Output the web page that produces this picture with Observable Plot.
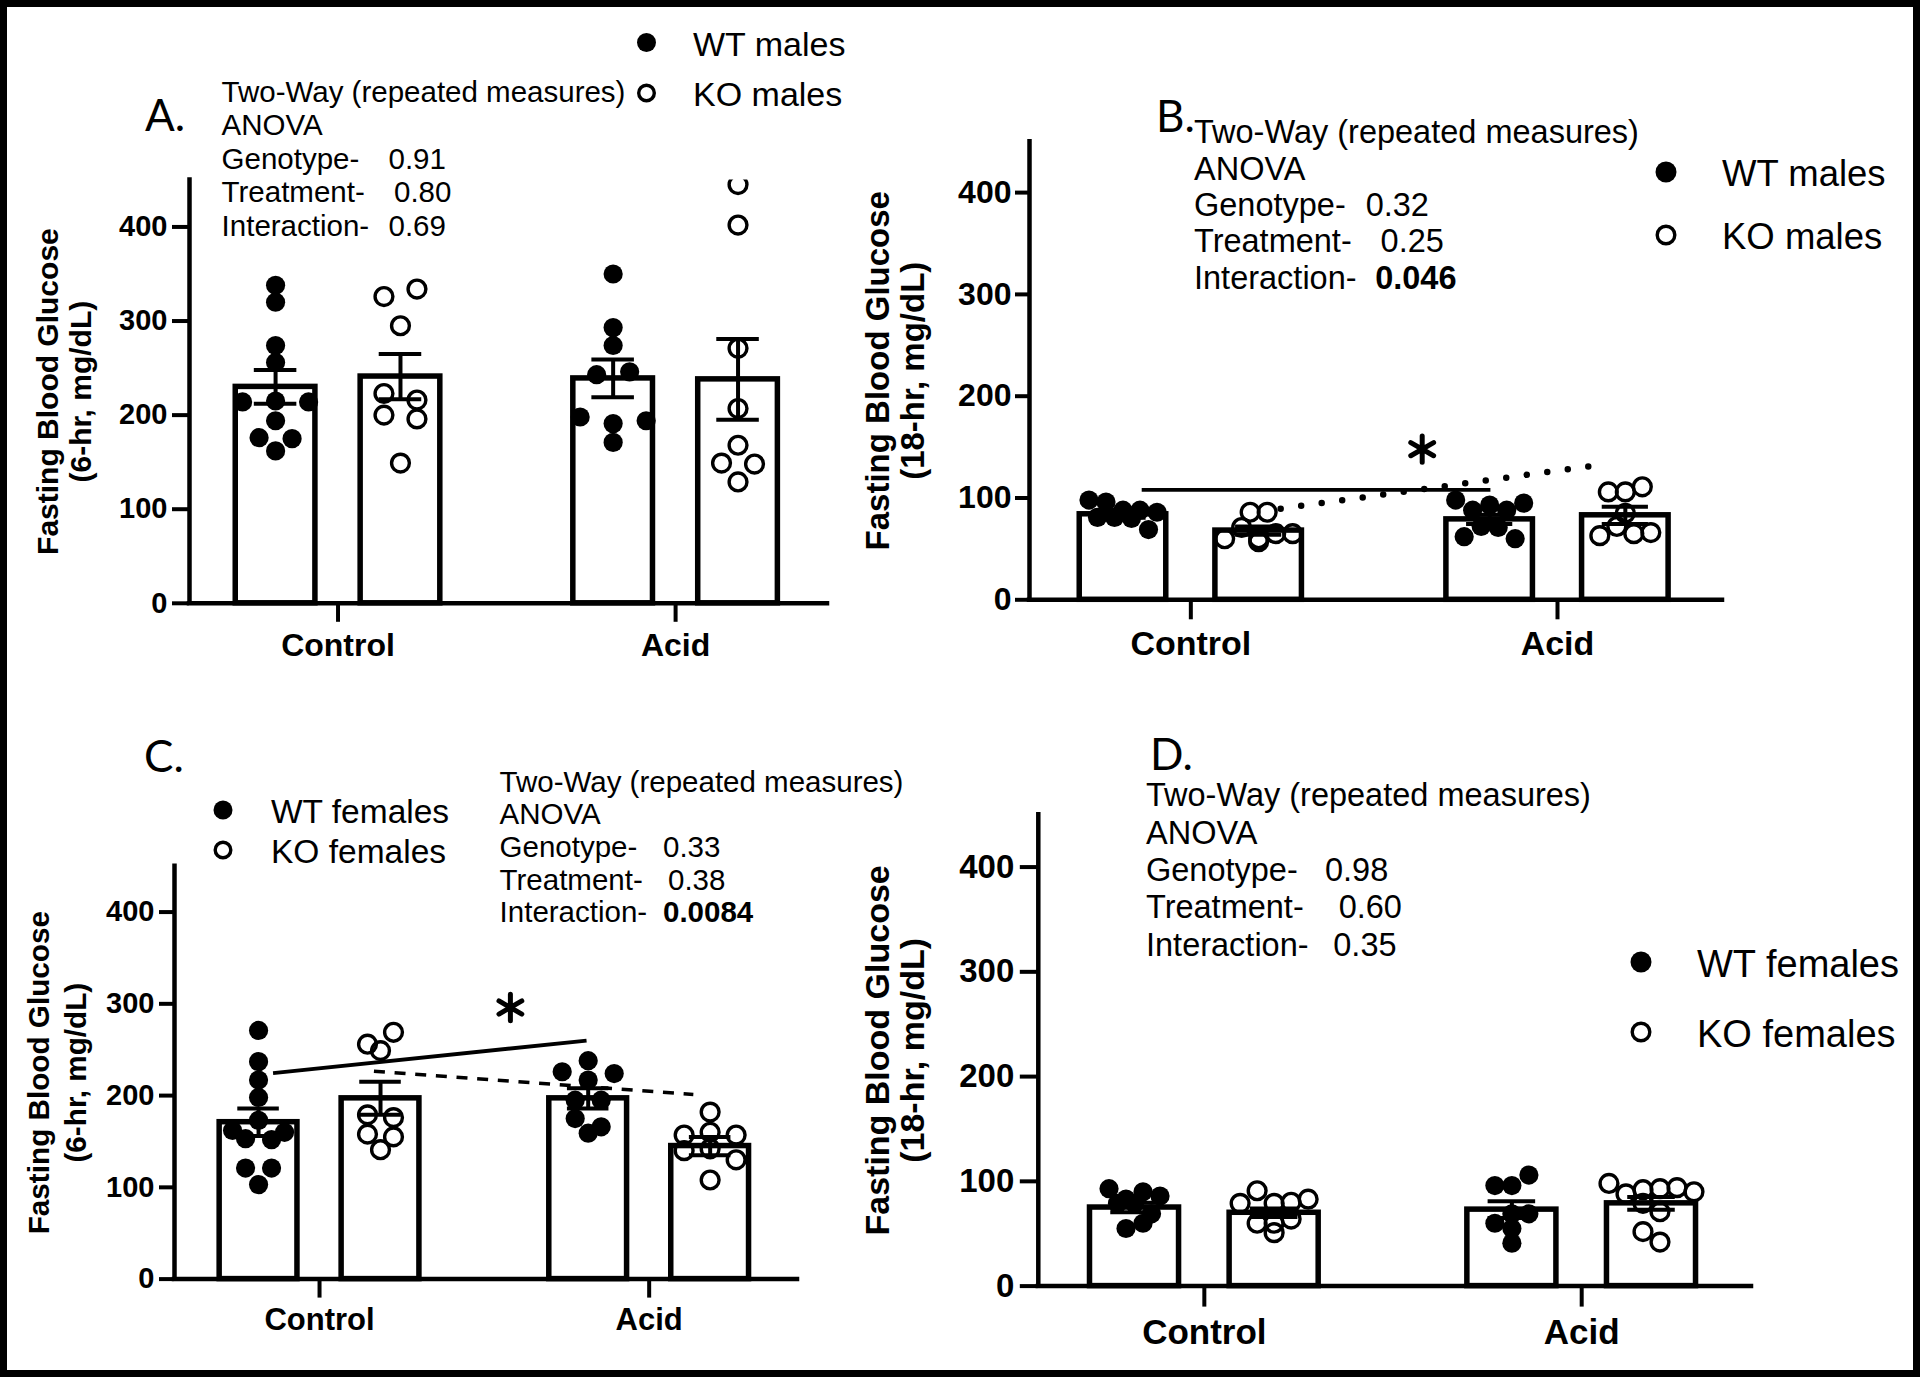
<!DOCTYPE html>
<html><head><meta charset="utf-8">
<script src="https://cdn.jsdelivr.net/npm/d3@7"></script>
<script src="https://cdn.jsdelivr.net/npm/@observablehq/plot@0.6"></script>
<style>
html,body{margin:0;padding:0;background:#fff;}
#fig{position:relative;width:1920px;height:1377px;overflow:hidden;background:#fff;}
.panel{position:absolute;}
.panel svg{overflow:visible;}
#overlay{position:absolute;left:0;top:0;pointer-events:none;}
#frame{position:absolute;left:0;top:0;width:1920px;height:1377px;box-sizing:border-box;border:7px solid #000;pointer-events:none;}
</style></head>
<body><div id="fig"></div>
<script>
// ---------------- data ----------------
const categories = ["Control", "Acid"];
const genotypes = ["WT", "KO"];
const yTicks = [0, 100, 200, 300, 400];

// Panel A: 6-hr fasting, males
const A_WT_Control = [338, 320, 274, 256, 214, 215, 214, 194, 176, 175, 162];
const A_KO_Control = [326, 334, 295, 223, 216, 200, 196, 149];
const A_WT_Acid    = [350, 293, 274, 243, 246, 198, 191, 194, 171];
const A_KO_Acid    = [445, 402, 271, 207, 168, 149, 148, 129];
const A_mean_WT = [230, 239], A_sem_WT = [18, 20];
const A_mean_KO = [241, 238], A_sem_KO = [24, 43];
const A_anova = [["Genotype-", "0.91", false], ["Treatment-", "0.80", false], ["Interaction-", "0.69", false]];
const A_legend = ["WT males", "KO males"];

// Panel B: 18-hr fasting, males
const B_WT_Control = [98, 96, 88, 88, 86, 81, 81, 80, 69];
const B_KO_Control = [86, 86, 60, 71, 60, 65, 65, 57];
const B_WT_Acid    = [98, 88, 93, 88, 95, 62, 72, 71, 60];
const B_KO_Acid    = [106, 106, 111, 85, 63, 72, 65, 66];
const B_mean_WT = [84, 79], B_sem_WT = [3.5, 4.5];
const B_mean_KO = [68, 83], B_sem_KO = [4, 8.5];
const B_anova = [["Genotype-", "0.32", false], ["Treatment-", "0.25", false], ["Interaction-", "0.046", true]];
const B_legend = ["WT males", "KO males"];
const B_sigLines = [
  {style: "solid",  x1: 0.866, y1: 108,  x2: 1.817, y2: 108},
  {style: "dotted", x1: 1.245, y1: 89.5, x2: 2.136, y2: 133.6}
];
const B_stars = [{x: 1.631, y: 148}];

// Panel C: 6-hr fasting, females
const C_WT_Control = [271, 237, 217, 198, 162, 173, 160, 153, 152, 121, 121, 103];
const C_KO_Control = [256, 269, 249, 179, 176, 158, 155, 141];
const C_WT_Acid    = [226, 238, 224, 217, 195, 195, 175, 159, 166];
const C_KO_Acid    = [182, 157, 160, 157, 140, 142, 130, 108];
const C_mean_WT = [171, 197], C_sem_WT = [15, 11];
const C_mean_KO = [197, 145], C_sem_KO = [18, 10];
const C_anova = [["Genotype-", "0.33", false], ["Treatment-", "0.38", false], ["Interaction-", "0.0084", true]];
const C_legend = ["WT females", "KO females"];
const C_sigLines = [
  {style: "solid",  x1: 0.859, y1: 224.4, x2: 1.810, y2: 260},
  {style: "dashed", x1: 1.165, y1: 226.6, x2: 2.134, y2: 201.2}
];
const C_stars = [{x: 1.579, y: 296}];

// Panel D: 18-hr fasting, females
const D_WT_Control = [93, 83, 90, 86, 79, 79, 69, 55, 60];
const D_KO_Control = [79, 91, 79, 80, 83, 60, 60, 64, 51];
const D_WT_Acid    = [96, 96, 106, 60, 69, 69, 55, 41];
const D_KO_Acid    = [98, 88, 92, 93, 94, 90, 79, 71, 52, 42];
const D_mean_WT = [75, 73], D_sem_WT = [4.5, 8];
const D_mean_KO = [70, 79], D_sem_KO = [4, 6];
const D_anova = [["Genotype-", "0.98", false], ["Treatment-", "0.60", false], ["Interaction-", "0.35", false]];
const D_legend = ["WT females", "KO females"];

// ---------------- layout ----------------
const X_MIN = 0.56, X_MAX = 2.45, Y_MAX = 450;
const FONT = "'Liberation Sans', Arial, Helvetica, sans-serif";
const panels = [
  {key: "A", title: "Fasting Blood Glucose\n(6-hr, mg/dL)",
   vals: {WT: [A_WT_Control, A_WT_Acid], KO: [A_KO_Control, A_KO_Acid]},
   mean: {WT: A_mean_WT, KO: A_mean_KO}, sem: {WT: A_sem_WT, KO: A_sem_KO},
   sig: [], stars: [], anova: A_anova, legend: A_legend,
   L: {left: 0, top: 0, width: 860, height: 690, mL: 189, mR: 33, mT: 179.4, mB: 87.2,
       yFS: 29, yTick: 17, yPad: 5, xFS: 32, xTick: 19, xPad: 11,
       tFS: 30, tDx: -126, tLH: 1.1, step: 33},
   ann: {letter: [145, 131], anovaX: 221.6, anovaY: 101.6, anovaStep: 33.6, anovaFS: 29.5, valX: [388.5, 394, 388.5],
         legX: 646.5, legY: [42.5, 93], legTX: 693, legFS: 34, legR: 9.5, legOR: 7.8}},
  {key: "B", title: "Fasting Blood Glucose\n(18-hr, mg/dL)",
   vals: {WT: [B_WT_Control, B_WT_Acid], KO: [B_KO_Control, B_KO_Acid]},
   mean: {WT: B_mean_WT, KO: B_mean_KO}, sem: {WT: B_sem_WT, KO: B_sem_KO},
   sig: B_sigLines, stars: B_stars, anova: B_anova, legend: B_legend,
   L: {left: 860, top: 0, width: 1060, height: 690, mL: 169, mR: 198, mT: 141.2, mB: 90.7,
       yFS: 32, yTick: 14, yPad: 4, xFS: 34, xTick: 20, xPad: 11,
       tFS: 33, tDx: -134, tLH: 1.04, step: 17},
   ann: {letter: [1156, 132], anovaX: 1194, anovaY: 143.3, anovaStep: 36.3, anovaFS: 32.5, valX: [1365.7, 1380.6, 1375.2],
         legX: 1666, legY: [172, 235], legTX: 1722, legFS: 36.5, legR: 10.5, legOR: 8.8}},
  {key: "C", title: "Fasting Blood Glucose\n(6-hr, mg/dL)",
   vals: {WT: [C_WT_Control, C_WT_Acid], KO: [C_KO_Control, C_KO_Acid]},
   mean: {WT: C_mean_WT, KO: C_mean_KO}, sem: {WT: C_sem_WT, KO: C_sem_KO},
   sig: C_sigLines, stars: C_stars, anova: C_anova, legend: C_legend,
   L: {left: 0, top: 690, width: 860, height: 687, mL: 174, mR: 63, mT: 175.7, mB: 98.4,
       yFS: 29, yTick: 15, yPad: 5, xFS: 31, xTick: 19, xPad: 9.5,
       tFS: 29.7, tDx: -119, tLH: 1.25, step: 26},
   ann: {letter: [144, 772], anovaX: 499.6, anovaY: 791.8, anovaStep: 32.6, anovaFS: 29.5, valX: [663, 668, 663],
         legX: 223, legY: [810, 850], legTX: 271, legFS: 33.5, legR: 9.5, legOR: 7.8}},
  {key: "D", title: "Fasting Blood Glucose\n(18-hr, mg/dL)",
   vals: {WT: [D_WT_Control, D_WT_Acid], KO: [D_KO_Control, D_KO_Acid]},
   mean: {WT: D_mean_WT, KO: D_mean_KO}, sem: {WT: D_sem_WT, KO: D_sem_KO},
   sig: [], stars: [], anova: D_anova, legend: D_legend,
   L: {left: 860, top: 690, width: 1060, height: 687, mL: 177.8, mR: 169, mT: 124.2, mB: 91.4,
       yFS: 33, yTick: 18, yPad: 6, xFS: 35, xTick: 21, xPad: 12.5,
       tFS: 34, tDx: -143, tLH: 1.02, step: 17},
   ann: {letter: [1150, 770], anovaX: 1146, anovaY: 806.2, anovaStep: 37.4, anovaFS: 32.5, valX: [1325, 1338.7, 1333.3],
         legX: 1641, legY: [962, 1032], legTX: 1697, legFS: 38, legR: 10.5, legOR: 8.8}}
];

// Scatter points GraphPad-style: values within one dot of each other share a row, spread symmetrically
function spread(vals, pxPerVal, stepPx, unitPx) {
  const order = vals.map((v, i) => i).sort((a, b) => vals[b] - vals[a] || a - b);
  const off = new Array(vals.length).fill(0);
  let k = 0;
  while (k < order.length) {
    const top = vals[order[k]];
    const row = [];
    while (k < order.length && (top - vals[order[k]]) * pxPerVal <= 13) { row.push(order[k]); k++; }
    row.sort((a, b) => a - b);
    row.forEach((i, j) => { off[i] = (j - (row.length - 1) / 2) * stepPx / unitPx; });
  }
  return off;
}

const fig = document.getElementById("fig");

for (const p of panels) {
  const L = p.L;
  const innerW = L.width - L.mL - L.mR;
  const innerH = L.height - L.mT - L.mB;
  const unitPx = innerW / (X_MAX - X_MIN);
  const pxPerVal = innerH / Y_MAX;
  const bars = [], pts = [];
  genotypes.forEach(g => {
    categories.forEach((c, ci) => {
      const xc = ci + 1 + (g === "WT" ? -0.185 : 0.185);
      bars.push({geno: g, x: xc, mean: p.mean[g][ci], sem: p.sem[g][ci]});
      const vals = p.vals[g][ci];
      const off = spread(vals, pxPerVal, L.step, unitPx);
      vals.forEach((v, i) => pts.push({geno: g, x: xc + off[i], v}));
    });
  });
  const halfW = 0.118, capW = 0.063;

  const plot = Plot.plot({
    width: L.width, height: L.height,
    marginLeft: L.mL, marginRight: L.mR, marginTop: L.mT, marginBottom: L.mB,
    style: {fontFamily: FONT, overflow: "visible", background: "transparent", color: "black"},
    x: {domain: [X_MIN, X_MAX], axis: null},
    y: {domain: [0, Y_MAX], axis: null},
    marks: [
      Plot.rect(bars, {x1: d => d.x - halfW, x2: d => d.x + halfW, y1: 0, y2: "mean",
        fill: "white", stroke: "black", strokeWidth: 5.5}),
      Plot.dot(pts.filter(d => d.geno === "WT"), {x: "x", y: "v", r: 9.6, fill: "black", stroke: "none", clip: true}),
      Plot.dot(pts.filter(d => d.geno === "KO"), {x: "x", y: "v", r: 8.9, fill: "none", stroke: "black", strokeWidth: 3.4, clip: true}),
      Plot.ruleX(bars, {x: "x", y1: d => d.mean - d.sem, y2: d => d.mean + d.sem, stroke: "black", strokeWidth: 4}),
      Plot.ruleY(bars, {y: d => d.mean + d.sem, x1: d => d.x - capW, x2: d => d.x + capW, stroke: "black", strokeWidth: 4}),
      Plot.ruleY(bars, {y: d => d.mean - d.sem, x1: d => d.x - capW, x2: d => d.x + capW, stroke: "black", strokeWidth: 4}),
      Plot.link(p.sig.filter(d => d.style === "solid"), {x1: "x1", y1: "y1", x2: "x2", y2: "y2", stroke: "black", strokeWidth: 3.8}),
      Plot.link(p.sig.filter(d => d.style === "dotted"), {x1: "x1", y1: "y1", x2: "x2", y2: "y2", stroke: "black",
        strokeWidth: 6.5, strokeLinecap: "round", strokeDasharray: "0,20.7"}),
      Plot.link(p.sig.filter(d => d.style === "dashed"), {x1: "x1", y1: "y1", x2: "x2", y2: "y2", stroke: "black",
        strokeWidth: 3.6, strokeDasharray: "11,9.7"}),
      Plot.dot(p.stars, {x: "x", y: "y", symbol: "asterisk", r: 12.5, stroke: "black", strokeWidth: 5, strokeLinecap: "round"}),
      Plot.ruleX([X_MIN], {y1: 0, y2: Y_MAX, stroke: "black", strokeWidth: 4.5, strokeLinecap: "square"}),
      Plot.ruleY([0], {x1: X_MIN, x2: X_MAX, stroke: "black", strokeWidth: 4.5, strokeLinecap: "square"}),
      Plot.axisY({ticks: yTicks, tickSize: L.yTick, tickPadding: L.yPad, fontSize: L.yFS, fontWeight: "bold",
        strokeWidth: 4, label: null, tickFormat: d => String(d)}),
      Plot.axisX({ticks: [1, 2], tickSize: L.xTick, tickPadding: L.xPad, fontSize: L.xFS, fontWeight: "bold",
        strokeWidth: 4, label: null, tickFormat: d => categories[d - 1]}),
      Plot.text([p.title], {text: d => d, frameAnchor: "left", dx: L.tDx, rotate: -90, fontSize: L.tFS,
        fontWeight: "bold", lineHeight: L.tLH, textAnchor: "middle", lineAnchor: "middle", fill: "black"})
    ]
  });
  const wrap = document.createElement("div");
  wrap.className = "panel";
  wrap.style.left = L.left + "px";
  wrap.style.top = L.top + "px";
  wrap.appendChild(plot);
  fig.appendChild(wrap);
}

// ---------------- annotations: panel letters, ANOVA text, legends ----------------
const ov = d3.select(fig).append("svg").attr("id", "overlay").attr("width", 1920).attr("height", 1377)
  .style("font-family", FONT);
for (const p of panels) {
  const a = p.ann;
  ov.append("text").attr("x", a.letter[0]).attr("y", a.letter[1])
    .style("font-family", "Lato, 'Open Sans', sans-serif").style("font-size", "44px").text(p.key + ".");
  const lines = ["Two-Way (repeated measures)", "ANOVA"];
  lines.forEach((t, i) => {
    ov.append("text").attr("x", a.anovaX).attr("y", a.anovaY + i * a.anovaStep)
      .style("font-size", a.anovaFS + "px").text(t);
  });
  p.anova.forEach(([lab, val, bold], i) => {
    const y = a.anovaY + (i + 2) * a.anovaStep;
    ov.append("text").attr("x", a.anovaX).attr("y", y).style("font-size", a.anovaFS + "px").text(lab);
    ov.append("text").attr("x", a.valX[i]).attr("y", y).style("font-size", a.anovaFS + "px")
      .style("font-weight", bold ? "bold" : "normal").text(val);
  });
  p.legend.forEach((lab, i) => {
    const cy = a.legY[i];
    if (i === 0) ov.append("circle").attr("cx", a.legX).attr("cy", cy).attr("r", a.legR).attr("fill", "black");
    else ov.append("circle").attr("cx", a.legX).attr("cy", cy).attr("r", a.legOR).attr("fill", "none")
      .attr("stroke", "black").attr("stroke-width", 3.4);
    ov.append("text").attr("x", a.legTX).attr("y", cy + 0.358 * a.legFS + 1).style("font-size", a.legFS + "px").text(lab);
  });
}
const frame = document.createElement("div");
frame.id = "frame";
fig.appendChild(frame);
</script>
</body></html>
